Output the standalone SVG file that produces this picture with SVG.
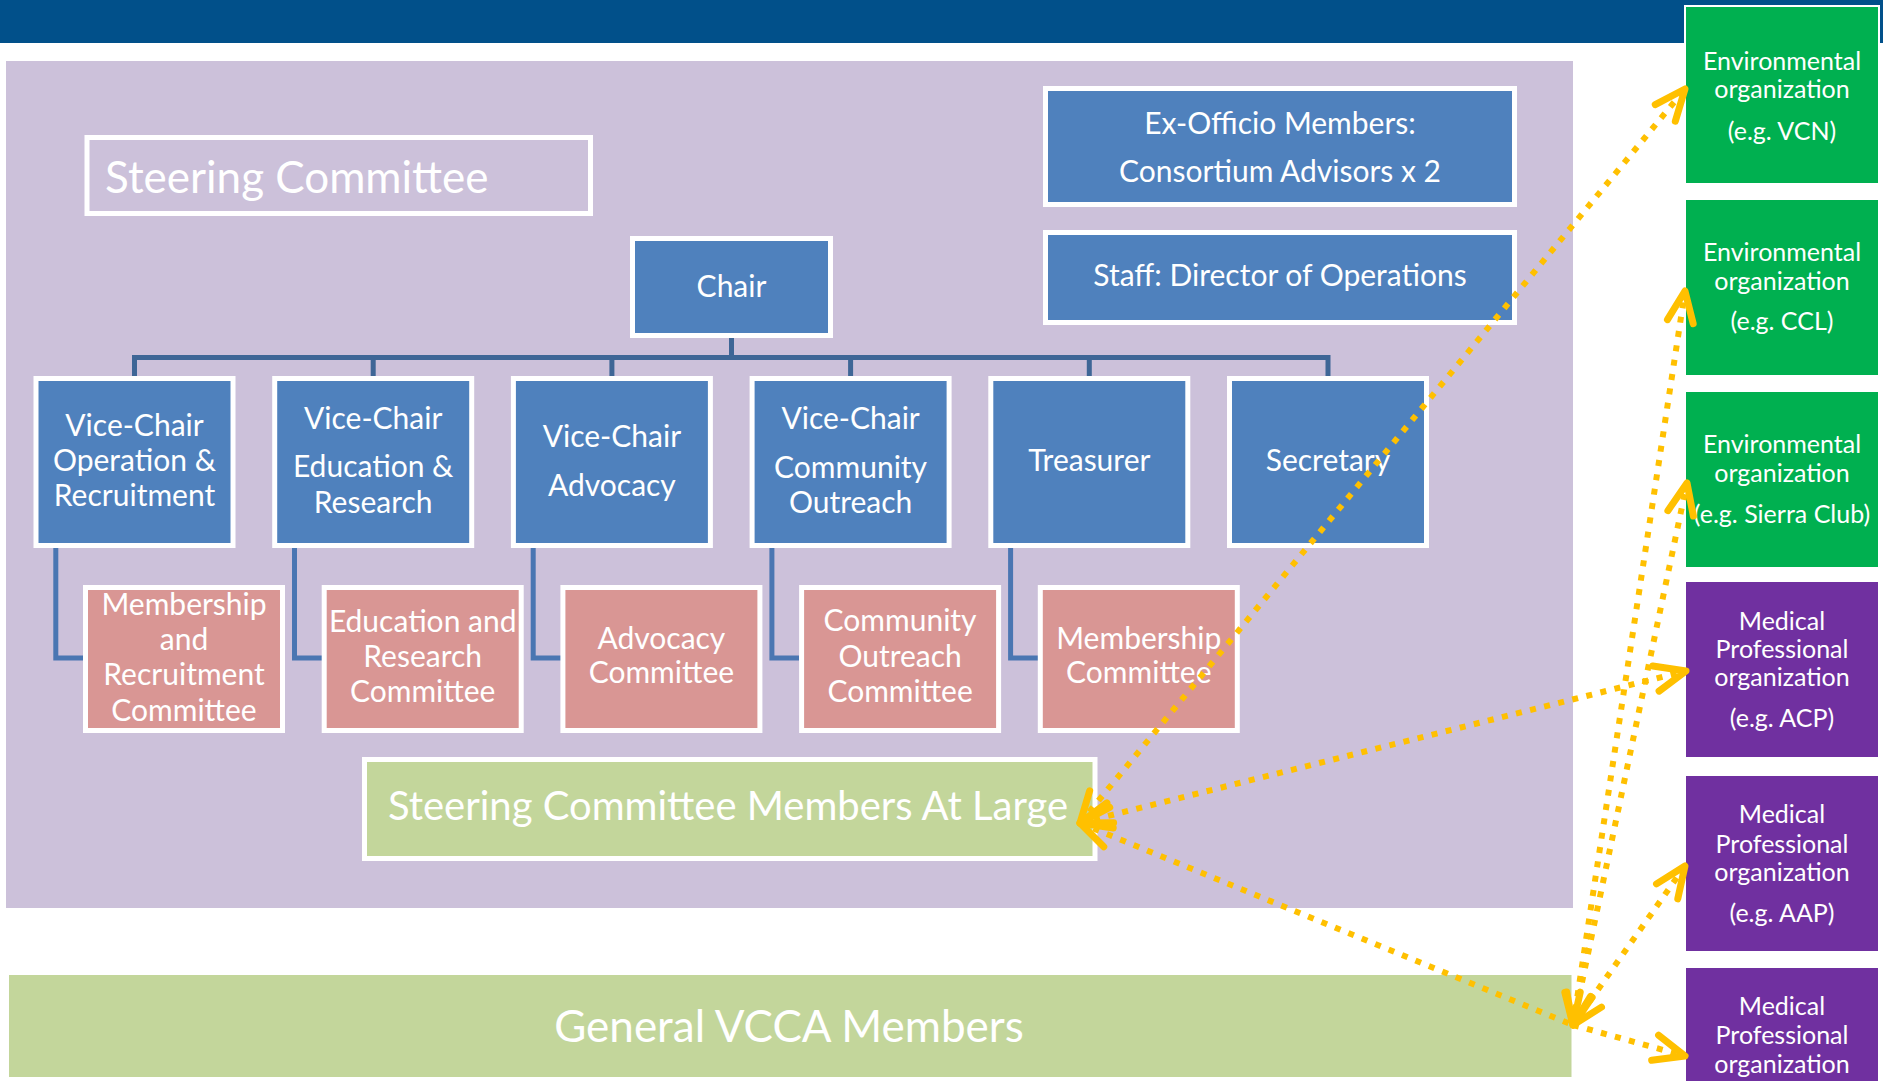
<svg xmlns="http://www.w3.org/2000/svg" width="1883" height="1081" viewBox="0 0 1883 1081">
<defs>
<style>
.t{font-family:Lato,"Open Sans","Liberation Sans",sans-serif;fill:#fff;text-anchor:middle}
.b{font-size:30px}
.s{font-size:25px}
.blue{fill:#4F81BD;stroke:#fff;stroke-width:5}
.pink{fill:#D99694;stroke:#fff;stroke-width:5}
.lg{fill:#C3D69B;stroke:#fff;stroke-width:5}
.env{fill:#00B050;stroke:#fff;stroke-width:2}
.med{fill:#7030A0;stroke:#fff;stroke-width:2}
.bus{fill:none;stroke:#3E6696;stroke-width:5}
.elb{fill:none;stroke:#4A76B2;stroke-width:5;stroke-linejoin:miter}
.arr{fill:none;stroke:#FFC000;stroke-width:6;stroke-dasharray:6 8.5}
</style>
<marker id="ah" markerUnits="userSpaceOnUse" orient="auto-start-reverse" refX="0" refY="0" markerWidth="80" markerHeight="80" viewBox="-40 -40 80 80" overflow="visible">
<path d="M-31,-13 L0,0 L-31,13" fill="none" stroke="#FFC000" stroke-width="7" stroke-linecap="round" stroke-linejoin="round"/>
</marker>
</defs>
<rect x="0" y="0" width="1883" height="1081" fill="#fff"/>
<rect id="top-band" x="0" y="0" width="1883" height="43" fill="#01508A"/>
<rect id="steering-bg" x="6" y="61" width="1567" height="847" fill="#CCC1DA"/>

<g id="org-links">
<path class="bus" d="M731.5,338 V357.5 M134.5,376 V357.5 H1328 V376 M373.2,357.5 V376 M611.9,357.5 V376 M850.6,357.5 V376 M1089.3,357.5 V376"/>
<path class="elb" d="M55.8,548 V658 H83"/>
<path class="elb" d="M294.5,548 V658 H322"/>
<path class="elb" d="M533.2,548 V658 H561"/>
<path class="elb" d="M771.9,548 V658 H799"/>
<path class="elb" d="M1010.6,548 V658 H1038"/>
</g>

<g id="steering-title">
<rect x="87" y="137.5" width="503.5" height="76" fill="none" stroke="#fff" stroke-width="5"/>
<text class="t" x="105" y="193" style="font-size:44px;text-anchor:start">Steering Committee</text>
</g>
<g id="chair">
<rect class="blue" x="632.5" y="238.5" width="198" height="97"/>
<text class="t b" x="731.5" y="297">Chair</text>
</g>
<g id="ex-officio">
<rect class="blue" x="1045.5" y="88.5" width="469" height="116"/>
<text class="t b" x="1280" y="134">Ex-Officio Members:</text>
<text class="t b" x="1280" y="182">Consortium Advisors x 2</text>
</g>
<g id="staff">
<rect class="blue" x="1045.5" y="232.5" width="469" height="90"/>
<text class="t b" x="1280" y="286">Staff: Director of Operations</text>
</g>

<g id="vc-operation">
<rect class="blue" x="36" y="378.5" width="197" height="167"/>
<text class="t b" x="134.5" y="436">Vice-Chair</text>
<text class="t b" x="134.5" y="470.7">Operation &amp;</text>
<text class="t b" x="134.5" y="506">Recruitment</text>
</g>
<g id="vc-education">
<rect class="blue" x="274.7" y="378.5" width="197" height="167"/>
<text class="t b" x="373.2" y="429">Vice-Chair</text>
<text class="t b" x="373.2" y="477">Education &amp;</text>
<text class="t b" x="373.2" y="512.7">Research</text>
</g>
<g id="vc-advocacy">
<rect class="blue" x="513.4" y="378.5" width="197" height="167"/>
<text class="t b" x="611.9" y="447">Vice-Chair</text>
<text class="t b" x="611.9" y="496">Advocacy</text>
</g>
<g id="vc-outreach">
<rect class="blue" x="752.1" y="378.5" width="197" height="167"/>
<text class="t b" x="850.6" y="429">Vice-Chair</text>
<text class="t b" x="850.6" y="477.5">Community</text>
<text class="t b" x="850.6" y="512.7">Outreach</text>
</g>
<g id="treasurer">
<rect class="blue" x="990.8" y="378.5" width="197" height="167"/>
<text class="t b" x="1089.3" y="471">Treasurer</text>
</g>
<g id="secretary">
<rect class="blue" x="1229.5" y="378.5" width="197" height="167"/>
<text class="t b" x="1328" y="471">Secretary</text>
</g>

<g id="membership-recruitment-committee">
<rect class="pink" x="85.5" y="587.5" width="197" height="143"/>
<text class="t b" x="184" y="615">Membership</text>
<text class="t b" x="184" y="650">and</text>
<text class="t b" x="184" y="685">Recruitment</text>
<text class="t b" x="184" y="720.7">Committee</text>
</g>
<g id="education-research-committee">
<rect class="pink" x="324.2" y="587.5" width="197" height="143"/>
<text class="t b" x="422.7" y="631.7">Education and</text>
<text class="t b" x="422.7" y="667.3">Research</text>
<text class="t b" x="422.7" y="702.3">Committee</text>
</g>
<g id="advocacy-committee">
<rect class="pink" x="562.9" y="587.5" width="197" height="143"/>
<text class="t b" x="661.4" y="648.7">Advocacy</text>
<text class="t b" x="661.4" y="683">Committee</text>
</g>
<g id="community-outreach-committee">
<rect class="pink" x="801.6" y="587.5" width="197" height="143"/>
<text class="t b" x="900.1" y="631.4">Community</text>
<text class="t b" x="900.1" y="667">Outreach</text>
<text class="t b" x="900.1" y="702">Committee</text>
</g>
<g id="membership-committee">
<rect class="pink" x="1040.3" y="587.5" width="197" height="143"/>
<text class="t b" x="1138.8" y="648.7">Membership</text>
<text class="t b" x="1138.8" y="683">Committee</text>
</g>

<g id="members-at-large">
<rect class="lg" x="364.5" y="759.5" width="730.5" height="99"/>
<text class="t" x="728" y="819.5" style="font-size:40px">Steering Committee Members At Large</text>
</g>
<g id="general-members">
<rect x="9" y="975" width="1562.5" height="102" fill="#C3D69B"/>
<text class="t" x="789" y="1042" style="font-size:44px">General VCCA Members</text>
</g>

<g id="env-vcn">
<rect class="env" x="1685" y="6" width="194" height="178"/>
<text class="t s" x="1782" y="69.6">Environmental</text>
<text class="t s" x="1782" y="98">organization</text>
<text class="t s" x="1782" y="140">(e.g. VCN)</text>
</g>
<g id="env-ccl">
<rect class="env" x="1685" y="199" width="194" height="177"/>
<text class="t s" x="1782" y="261">Environmental</text>
<text class="t s" x="1782" y="290">organization</text>
<text class="t s" x="1782" y="330">(e.g. CCL)</text>
</g>
<g id="env-sierra">
<rect class="env" x="1685" y="391" width="194" height="177"/>
<text class="t s" x="1782" y="453">Environmental</text>
<text class="t s" x="1782" y="482">organization</text>
<text class="t s" x="1782" y="523">(e.g. Sierra Club)</text>
</g>
<g id="med-acp">
<rect class="med" x="1685" y="581" width="194" height="177"/>
<text class="t s" x="1782" y="630">Medical</text>
<text class="t s" x="1782" y="658.3">Professional</text>
<text class="t s" x="1782" y="686">organization</text>
<text class="t s" x="1782" y="726.7">(e.g. ACP)</text>
</g>
<g id="med-aap">
<rect class="med" x="1685" y="775" width="194" height="177"/>
<text class="t s" x="1782" y="823.3">Medical</text>
<text class="t s" x="1782" y="852.7">Professional</text>
<text class="t s" x="1782" y="880.7">organization</text>
<text class="t s" x="1782" y="921.7">(e.g. AAP)</text>
</g>
<g id="med-3">
<rect class="med" x="1685" y="967" width="194" height="130"/>
<text class="t s" x="1782" y="1015">Medical</text>
<text class="t s" x="1782" y="1044.3">Professional</text>
<text class="t s" x="1782" y="1072.7">organization</text>
</g>

<g id="connectors">
<line class="arr" x1="1080" y1="823" x2="1685" y2="89" marker-start="url(#ah)" marker-end="url(#ah)"/>
<line class="arr" x1="1080" y1="823" x2="1686" y2="671" marker-start="url(#ah)" marker-end="url(#ah)"/>
<line class="arr" x1="1080" y1="823" x2="1573" y2="1025" marker-start="url(#ah)"/>
<line class="arr" x1="1573" y1="1025" x2="1685" y2="291" marker-start="url(#ah)" marker-end="url(#ah)"/>
<line class="arr" x1="1573" y1="1025" x2="1687" y2="483" marker-start="url(#ah)" marker-end="url(#ah)"/>
<line class="arr" x1="1573" y1="1025" x2="1685" y2="866" marker-start="url(#ah)" marker-end="url(#ah)"/>
<line class="arr" x1="1573" y1="1025" x2="1685" y2="1056" marker-end="url(#ah)"/>
</g>
</svg>
